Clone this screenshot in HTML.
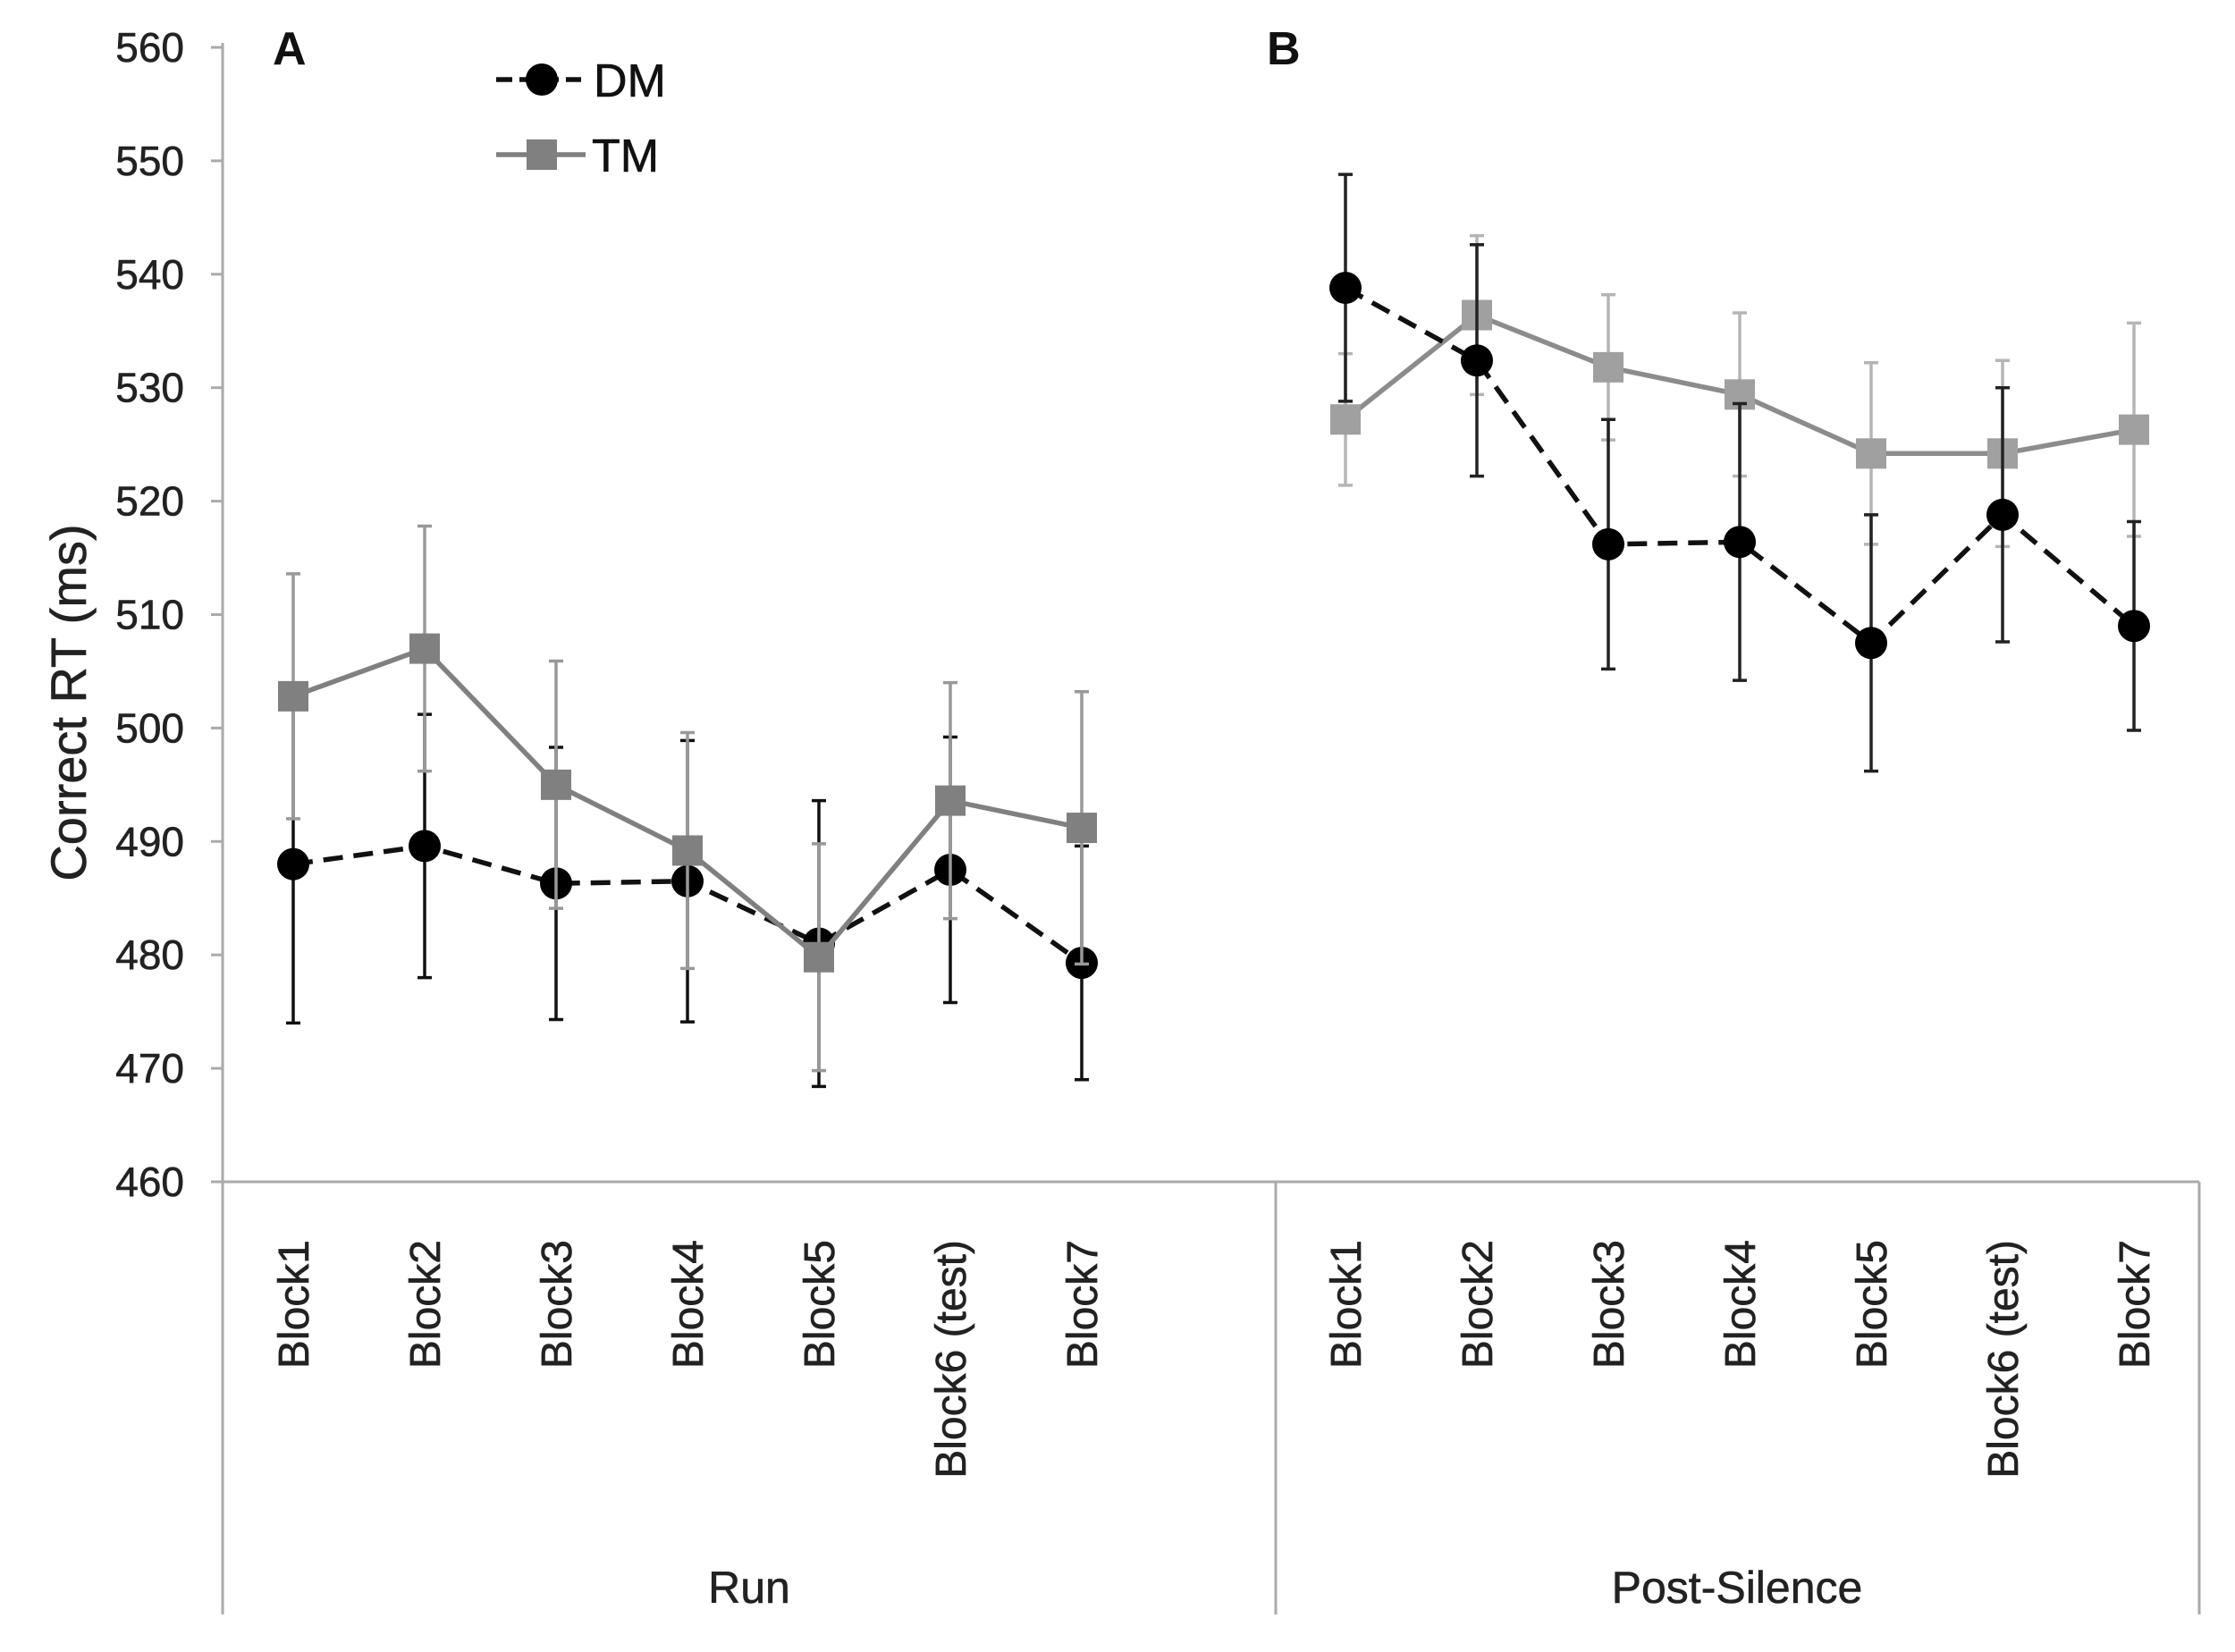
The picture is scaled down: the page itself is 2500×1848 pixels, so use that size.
<!DOCTYPE html>
<html><head><meta charset="utf-8"><style>
html,body{margin:0;padding:0;background:#fff;}
svg{display:block;font-family:"Liberation Sans",Arial,sans-serif;}
</style></head><body>
<svg id="chart" width="2500" height="1848" viewBox="0 0 2500 1848" xmlns="http://www.w3.org/2000/svg"></svg>
<script>
const categories = ["Block1","Block2","Block3","Block4","Block5","Block6 (test)","Block7"];
const groups = ["Run","Post-Silence"];
const yTicks = [460,470,480,490,500,510,520,530,540,550,560];
const dmRun = [488,489.6,486.3,486.5,481,487.5,479.3];
const dmRunErr = [14,11.6,12,12.4,12.6,11.7,10.3];
const tmRun = [502.8,507,495,489.2,479.8,493.6,491.2];
const tmRunErr = [10.8,10.8,10.9,10.4,10,10.4,12];
const dmPost = [538.8,532.4,516.2,516.4,507.5,518.8,509];
const dmPostErr = [10,10.2,11,12.2,11.3,11.2,9.2];
const tmPost = [527.2,536.4,531.8,529.4,524.2,524.2,526.3];
const tmPostErr = [5.8,7,6.4,7.2,8,8.2,9.4];

const svg = document.getElementById('chart');
const NS = 'http://www.w3.org/2000/svg';
function mk(tag, attrs, parent){const e=document.createElementNS(NS,tag);for(const k in attrs)e.setAttribute(k,attrs[k]);(parent||svg).appendChild(e);return e;}
const y0=1322, y1=53, vmin=460, vmax=560;
const yS = v => y0 - (v-vmin)/(vmax-vmin)*(y0-y1);
const groupX0=[328,1505], step=147;
const xS = (g,i) => groupX0[g] + i*step;

let e;
e=mk('line',{x1:249,y1:48,x2:249,y2:1806,stroke:'#aaa','stroke-width':3});


e=mk('line',{x1:249,y1:y0,x2:2460,y2:y0,stroke:'#aaa','stroke-width':3});


e=mk('line',{x1:1427,y1:y0,x2:1427,y2:1806,stroke:'#aaa','stroke-width':3});


e=mk('line',{x1:2460,y1:y0,x2:2460,y2:1806,stroke:'#aaa','stroke-width':3});



yTicks.forEach(v=>{
  const t=mk('line',{x1:236,y1:yS(v),x2:249,y2:yS(v),stroke:'#aaa','stroke-width':3});
  
  
  const l=mk('text',{x:206,y:yS(v)+16,'font-size':46,'text-anchor':'end',fill:'#222',stroke:'#222','stroke-width':0.6});
  l.textContent=v;
  
  
});
e=mk('text',{transform:'translate(96,786) rotate(-90)','font-size':56,'text-anchor':'middle',fill:'#222',stroke:'#222','stroke-width':0.6});
e.textContent='Correct  RT (ms)';



[0,1].forEach(g=>{
  categories.forEach((c,i)=>{
    const x=xS(g,i);
    const t=mk('text',{transform:`translate(${x+17},1387) rotate(-90)`,'font-size':48,'text-anchor':'end',fill:'#222',stroke:'#222','stroke-width':0.6});
    t.textContent=c;
    
    
  });
  const gl=mk('text',{x:g===0?838:1943,y:1793,'font-size':50,'text-anchor':'middle',fill:'#222',stroke:'#222','stroke-width':0.6});
  gl.textContent=groups[g];
  
  
});

function series(g, vals, errs, kind){
  const col = kind==='dm' ? '#111' : (g===0?'#808080':'#8c8c8c');
  const ecol = kind==='dm' ? (g===0?'#111':'#222') : (g===0?'#999':'#b5b5b5');
  vals.forEach((v,i)=>{
    const x=xS(g,i);
    const b=mk('path',{d:`M${x},${yS(v-errs[i])}V${yS(v+errs[i])}M${x-8},${yS(v-errs[i])}H${x+8}M${x-8},${yS(v+errs[i])}H${x+8}`,stroke:ecol,'stroke-width':3.5,fill:'none'});
    
    
  });
  const pts=vals.map((v,i)=>`${xS(g,i)},${yS(v)}`).join(' ');
  const pl=mk('polyline',{points:pts,fill:'none',stroke:col,'stroke-width':5.5});
  if(kind==='dm') pl.setAttribute('stroke-dasharray','22,12');
  
  
  vals.forEach((v,i)=>{
    const x=xS(g,i), y=yS(v);
    let m;
    if(kind==='dm') m=mk('circle',{cx:x,cy:y,r:18,fill:'#000'});
    else m=mk('rect',{x:x-17,y:y-17,width:34,height:34,fill:g===0?'#808080':'#a0a0a0'});
    
    
  });
}
series(0,dmRun,dmRunErr,'dm');
series(0,tmRun,tmRunErr,'tm');
series(1,tmPost,tmPostErr,'tm');
series(1,dmPost,dmPostErr,'dm');

e=mk('text',{x:305,y:72,'font-size':52,'font-weight':'bold',fill:'#111'});e.textContent='A';


e=mk('text',{x:1417,y:72,'font-size':52,'font-weight':'bold',fill:'#111'});e.textContent='B';



e=mk('line',{x1:555,y1:89,x2:650,y2:89,stroke:'#111','stroke-width':5.5,'stroke-dasharray':'18,8'});


e=mk('circle',{cx:606,cy:89,r:18,fill:'#000'});


e=mk('text',{x:664,y:108,'font-size':52,fill:'#111',stroke:'#111','stroke-width':0.6});e.textContent='DM';


e=mk('line',{x1:555,y1:173,x2:655,y2:173,stroke:'#808080','stroke-width':5.5});


e=mk('rect',{x:589,y:156,width:34,height:34,fill:'#808080'});


e=mk('text',{x:662,y:192,'font-size':52,fill:'#111',stroke:'#111','stroke-width':0.6});e.textContent='TM';


</script>
</body></html>
